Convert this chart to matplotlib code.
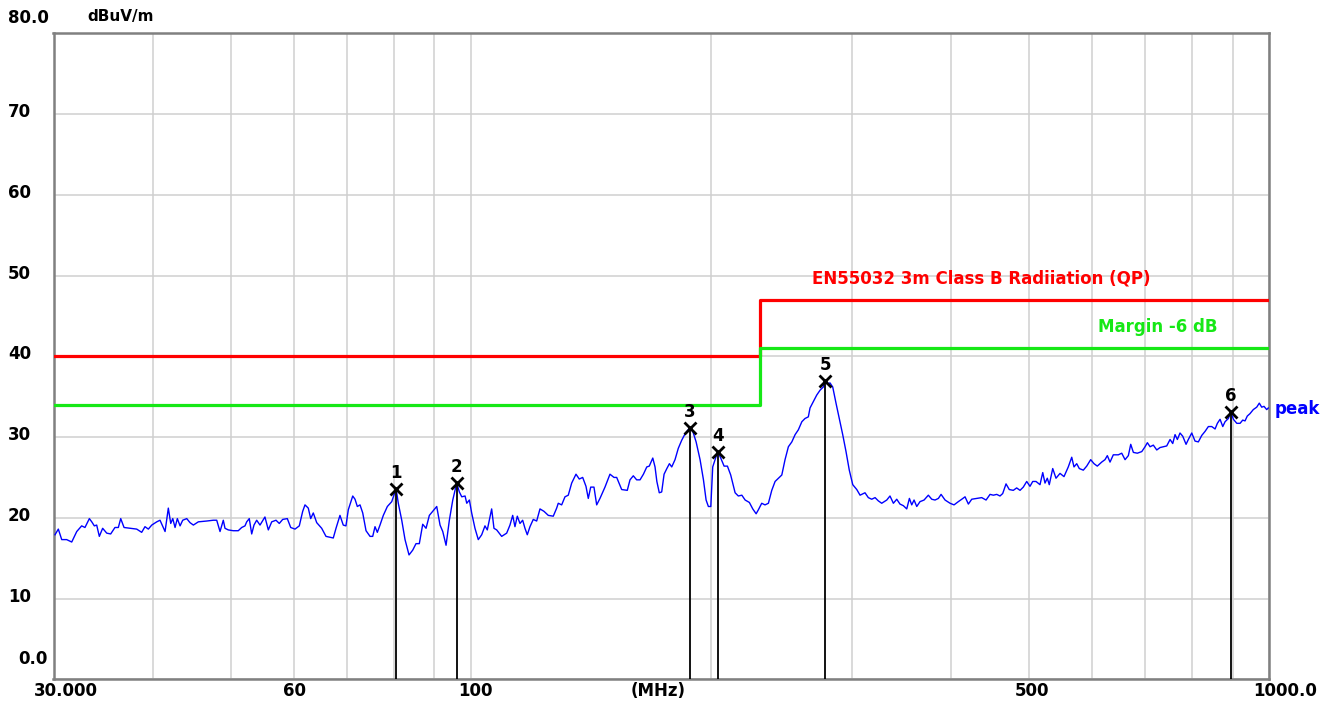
import matplotlib
matplotlib.use("Agg")
import matplotlib.pyplot as plt
import numpy as np
from matplotlib.ticker import NullLocator

# ---------------- data ----------------
freq_a = [30.13, 30.42, 30.72, 31.16, 31.62, 32.08, 32.54, 32.85, 33.27, 33.50,
          33.75, 33.98, 34.24, 34.57, 34.98, 35.38, 35.82, 36.17, 36.42, 36.77,
          37.41, 38.14, 38.69, 39.06, 39.44, 39.83, 40.41, 40.79, 41.39, 41.78,
          42.07, 42.32, 42.60, 42.88, 43.22, 43.55, 44.06, 44.48, 44.91, 45.56,
          46.67, 47.57, 48.04, 48.50, 48.96, 49.20, 49.67, 50.39, 51.12, 51.63,
          52.12, 52.38, 52.77, 53.14, 53.49, 53.91, 54.43, 55.21, 55.75, 56.30,
          57.00, 57.54, 58.11, 58.89, 59.47, 60.21, 60.96, 61.56, 61.97, 62.56,
          63.00, 63.47, 64.10, 65.03, 65.84, 67.24, 67.77]
level_a = [17.9, 18.6, 17.3, 17.3, 17.0, 18.3, 19.0, 18.8, 19.9, 19.5,
           19.0, 19.1, 17.7, 18.7, 18.1, 18.0, 18.8, 18.8, 19.9, 18.8,
           18.7, 18.6, 18.2, 18.9, 18.6, 19.1, 19.5, 19.7, 18.3, 21.2,
           19.3, 19.9, 18.8, 19.9, 19.0, 19.7, 19.9, 19.4, 19.1, 19.5,
           19.6, 19.7, 19.7, 18.3, 19.7, 18.7, 18.5, 18.4, 18.4, 18.8,
           19.0, 19.5, 19.9, 18.0, 19.1, 19.7, 19.1, 20.1, 18.5, 19.5,
           19.7, 19.3, 19.8, 19.9, 18.8, 18.6, 19.0, 20.8, 21.6, 21.2,
           19.9, 20.6, 19.4, 18.7, 17.7, 17.5, 18.7]

freq_b = [68.55, 69.20, 69.74, 70.22, 71.12, 71.59, 72.07, 72.63, 73.20, 73.90,
          74.76, 75.34, 75.84, 76.35, 76.94, 77.68, 78.59, 79.59, 80.6, 81.11,
          81.92, 82.70, 83.66, 84.56, 85.36, 86.18, 87.03, 87.87, 88.71, 89.58,
          90.62, 91.49, 92.21, 93.09, 93.98, 94.91, 96.0, 96.73, 97.40, 98.34,
          98.82, 99.57, 100.23, 101.19, 102.16, 103.17, 104.15, 104.85, 105.67, 106.18,
          106.89, 107.73, 109.29, 110.88, 111.94, 112.82, 113.56, 114.33, 115.21, 116.11,
          116.89, 117.67, 118.59, 119.72, 120.90, 122.06, 123.48, 125.02, 126.83, 128.08,
          128.67, 129.94, 131.19, 132.44, 133.75, 135.42, 136.71, 138.06, 139.38, 140.31,
          141.29, 142.63, 143.75, 145.12, 147.23, 149.37, 151.11, 152.29, 154.50, 157.02,
          158.25, 159.76, 161.33]
level_b = [20.3, 19.1, 19.0, 21.0, 22.7, 22.3, 21.4, 21.6, 20.6, 18.4,
           17.7, 17.7, 18.9, 18.2, 19.1, 20.3, 21.4, 22.0, 23.6, 21.8,
           19.7, 17.3, 15.4, 16.0, 16.8, 16.8, 19.2, 18.7, 20.3, 20.8,
           21.4, 19.1, 18.3, 16.6, 19.7, 22.2, 24.3, 23.2, 22.6, 22.7,
           21.8, 22.2, 20.6, 18.7, 17.3, 17.9, 19.0, 18.5, 20.1, 21.1,
           18.7, 18.5, 17.7, 18.1, 19.1, 20.3, 18.9, 20.2, 19.3, 19.7,
           18.7, 17.9, 18.9, 19.8, 19.6, 21.1, 20.8, 20.3, 20.2, 21.2,
           21.8, 21.6, 22.6, 22.8, 24.3, 25.4, 24.8, 25.0, 23.9, 22.4,
           23.8, 23.8, 21.6, 22.4, 23.8, 25.4, 25.0, 25.0, 23.5, 23.4,
           24.7, 25.2, 24.7]

freq_c = [162.9, 164.5, 166.1, 167.3, 169.0, 170.1, 171.0, 172.2, 173.4, 174.6,
          176.0, 177.3, 178.5, 180.2, 181.9, 183.7, 185.5, 187.8, 189.7, 191.5,
          193.7, 195.6, 197.1, 198.4, 199.8, 200.9, 202.3, 203.8, 205.6, 207.6,
          209.6, 211.6, 214.3, 216.3, 218.5, 220.6, 223.3, 225.5, 227.7, 229.2,
          231.4, 233.6, 235.9, 238.2, 240.5, 242.8, 245.2, 247.5, 249.9, 252.4,
          254.8, 257.2, 259.8, 262.2, 264.7, 266.0, 268.6, 271.2, 273.8, 276.4,
          277.8, 279.2, 281.8, 284.0, 286.7, 289.4, 292.3, 295.1, 297.9, 300.9,
          304.4, 307.3]
level_c = [24.7, 25.4, 26.3, 26.4, 27.4, 26.3, 24.5, 23.1, 23.2, 25.4,
           26.1, 26.7, 26.3, 27.2, 28.6, 29.6, 30.4, 31.1, 30.7, 29.4,
           27.2, 24.7, 22.2, 21.4, 21.4, 26.3, 27.2, 28.2, 27.4, 26.4,
           26.4, 25.3, 23.1, 22.7, 22.8, 22.2, 21.9, 21.1, 20.5, 21.0,
           21.8, 21.6, 21.8, 23.4, 24.5, 24.9, 25.3, 27.2, 28.8, 29.4,
           30.3, 30.9, 31.9, 32.3, 32.5, 33.6, 34.4, 35.2, 35.8, 36.2,
           37.0, 36.6, 36.7, 36.2, 34.2, 32.3, 30.3, 28.2, 25.9, 24.1,
           23.5, 22.8]

freq_d = [308.8, 311.7, 314.7, 317.8, 320.9, 323.9, 327.1, 331.9, 335.0, 338.3,
          341.6, 344.8, 348.2, 351.6, 354.3, 356.7, 359.1, 361.9, 365.3, 369.6,
          374.2, 377.9, 381.5, 385.2, 388.2, 392.7, 398.4, 403.0, 408.0, 412.1,
          416.0, 420.0, 424.1, 430.3, 436.5, 442.0, 447.1, 451.4, 455.8, 460.1,
          463.7, 468.2, 472.6, 478.1, 482.8, 487.5, 492.1, 497.0, 501.7, 505.7,
          510.5, 516.4, 520.5, 523.9, 527.4, 530.4, 535.7, 540.8]
level_d = [22.9, 23.1, 22.5, 22.3, 22.5, 22.1, 21.8, 22.2, 22.7, 21.8,
           22.3, 21.7, 21.5, 21.1, 22.4, 21.6, 22.2, 21.4, 22.0, 22.2,
           22.8, 22.3, 22.2, 22.4, 22.9, 22.2, 21.8, 21.6, 22.0, 22.3,
           22.6, 21.7, 22.3, 22.4, 22.5, 22.2, 22.9, 22.8, 22.9, 22.7,
           23.0, 24.2, 23.5, 23.4, 23.7, 23.4, 23.8, 24.5, 23.9, 24.5,
           24.5, 24.1, 25.6, 24.3, 24.9, 24.1, 26.1, 24.9]

freq_e = [547.1, 553.4, 560.3, 565.9, 569.6, 574.1, 578.4, 585.1, 590.9, 597.7,
          603.5, 609.2, 617.0, 622.9, 627.1, 632.0, 638.0, 647.3, 653.7, 660.0,
          666.3, 670.9, 676.0, 683.8, 692.6, 699.2, 703.9, 709.4, 716.1, 723.2,
          730.1, 737.1, 744.3, 751.5, 757.3, 762.4, 767.5, 773.4, 779.5, 787.0,
          792.2, 800.0, 807.6, 815.4, 823.4, 831.3, 839.3, 847.5, 855.7, 861.4,
          868.1, 874.9, 880.7, 889.2, 895.3, 902.1, 911.0, 919.7, 926.7, 932.9,
          939.0, 946.4, 955.4, 964.9, 972.1, 978.9, 985.4, 993.1, 997.7]
level_e = [25.5, 25.1, 26.3, 27.5, 26.3, 26.7, 26.1, 25.9, 26.4, 27.2,
           26.7, 26.4, 26.9, 27.2, 27.7, 26.9, 27.8, 27.8, 28.0, 27.2,
           27.7, 29.1, 28.1, 28.0, 28.2, 28.8, 29.3, 28.8, 29.0, 28.4,
           28.7, 28.8, 28.9, 29.7, 29.2, 30.3, 29.7, 30.5, 30.1, 29.1,
           29.7, 30.5, 29.5, 29.4, 30.2, 30.7, 31.3, 31.3, 31.0, 31.7,
           32.2, 31.3, 31.9, 32.3, 33.1, 32.2, 31.7, 31.7, 32.1, 32.0,
           32.6, 32.9, 33.4, 33.7, 34.2, 33.7, 33.8, 33.4, 33.6]

# Limit line (EN55032 3m Class B QP) and margin
limit_freq = [30, 230, 230, 1000]
limit_level = [40, 40, 47, 47]
margin_db = 6

# Markers
marker_ids = ["1", "2", "3", "4", "5", "6"]
marker_freq = [80.6, 96.0, 188.0, 203.8, 277.8, 895.3]
marker_level = [23.6, 24.3, 31.1, 28.2, 37.0, 33.1]

# Axes ticks / labels
y_ticks = [0, 10, 20, 30, 40, 50, 60, 70, 80]
y_labels = ["0.0", "10", "20", "30", "40", "50", "60", "70", "80.0"]
grid_freqs = [30, 40, 50, 60, 70, 80, 90, 100, 200, 300, 400, 500, 600, 700, 800, 900, 1000]
x_label_freqs = [30, 60, 100, 500, 1000]
x_labels = ["30.000", "60", "100", "500", "1000.0"]
unit_label_freq = 171.6

# ---------------- plot ----------------
freq = np.concatenate([freq_a, freq_b, freq_c, freq_d, freq_e])
level = np.concatenate([level_a, level_b, level_c, level_d, level_e])

W, H = 1333, 709
fig = plt.figure(figsize=(W / 100, H / 100), dpi=100)
fig.patch.set_facecolor("white")
left, right, top, bottom = 53.5, 1269.1, 33.3, 679.3
ax = fig.add_axes([left / W, 1 - bottom / H, (right - left) / W, (bottom - top) / H])

ax.set_xscale("log")
ax.set_xlim(30, 1000)
ax.set_ylim(0, 80)
ax.set_xticks(grid_freqs)
ax.xaxis.set_minor_locator(NullLocator())
ax.set_yticks(y_ticks)
ax.tick_params(length=0, labelbottom=False, labelleft=False)
ax.grid(True, color="#cfcfcf", lw=1.1, zorder=0)
for s in ax.spines.values():
    s.set_color("#808080")
    s.set_linewidth(1.8)

FONT = dict(family="DejaVu Sans", weight="bold", size=12)

# limit & margin lines
ax.plot(limit_freq, limit_level, color="#ff0000", lw=2.3, zorder=3)
ax.plot(limit_freq, np.array(limit_level) - margin_db, color="#16e816", lw=2.3, zorder=3)

# trace
ax.plot(freq, level, color="#0000ff", lw=1.0, zorder=4)

# markers
ax.vlines(marker_freq, 0, marker_level, color="black", lw=1.3, zorder=5)
ax.plot(marker_freq, marker_level, ls="none", marker="x", ms=8.5, mew=2.0, color="black", zorder=6)
for mid, f, v in zip(marker_ids, marker_freq, marker_level):
    ax.annotate(mid, xy=(f, v), xytext=(0, 16), textcoords="offset pixels",
                ha="center", va="center", color="black", zorder=7, **FONT)

# limit labels
ax.text(267.6, 49.6, "EN55032 3m Class B Radiiation (QP)", color="#ff0000",
        ha="left", va="center", **FONT)
ax.text(610.5, 43.6, "Margin -6 dB", color="#16e816", ha="left", va="center", **FONT)
ax.text(1017, 33.5, "peak", color="#0000ff", ha="left", va="center", clip_on=False, **FONT)

# y labels
for v, lab in zip(y_ticks, y_labels):
    dx, dy = -45.5, 2
    if lab == "80.0":
        dy = 15
    if lab == "0.0":
        dx, dy = -35, 20
    ax.annotate(lab, xy=(0, v), xycoords=("axes fraction", "data"), xytext=(dx, dy),
                textcoords="offset pixels", ha="left", va="center", color="black",
                annotation_clip=False, **FONT)
ax.annotate("dBuV/m", xy=(0, 1), xycoords="axes fraction", xytext=(34, 17),
            textcoords="offset pixels", ha="left", va="center", color="black",
            family="DejaVu Sans", weight="bold", size=11)

# x labels
x_shift = {"30.000": 12, "60": 1, "100": 5, "500": 3, "1000.0": 16}
for f, lab in zip(x_label_freqs, x_labels):
    ax.annotate(lab, xy=(f, 0), xycoords=("data", "axes fraction"), xytext=(x_shift[lab], -3),
                textcoords="offset pixels", ha="center", va="top", color="black",
                annotation_clip=False, **FONT)
ax.annotate("(MHz)", xy=(unit_label_freq, 0), xycoords=("data", "axes fraction"), xytext=(0, -3),
            textcoords="offset pixels", ha="center", va="top", color="black",
            annotation_clip=False, **FONT)

fig.savefig("out.png", dpi=100, facecolor="white")
